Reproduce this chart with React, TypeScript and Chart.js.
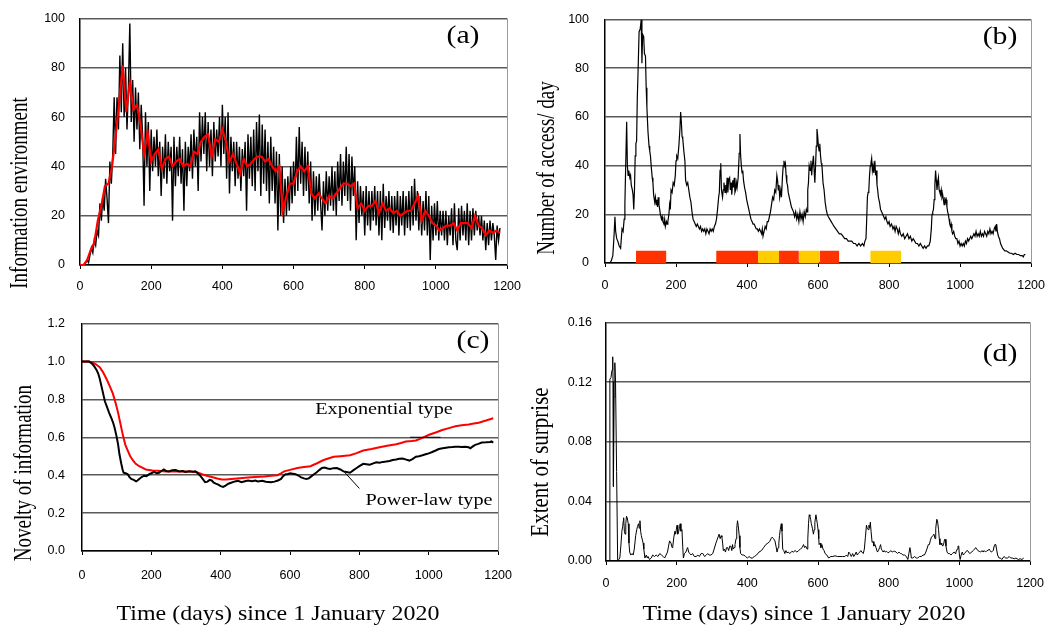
import React, { useEffect, useRef } from "react";
import { Chart, registerables } from "chart.js";

Chart.register(...registerables);

type Pt = [number, number];

// ---------------- DATA ----------------
const X_TICK_STEP = 200;
const X_MAX = 1200;

// (a) Information environment: daily series sampled every 4 days, and its moving average sampled every 10 days
const INFO_STEP_DAYS = 4;
const infoRaw: number[] = [
  0, 0, 0, 0, 1, 2, 1, 4, 7, 5, 10, 8, 14, 12, 25, 18, 28, 22, 35, 27, 17, 42, 33, 45, 68,
  45, 68, 55, 85, 62, 90, 60, 80, 55, 72, 98, 58, 75, 50, 72, 55, 70, 47, 65, 52, 24, 62, 40, 58, 30,
  55, 38, 52, 40, 55, 36, 50, 28, 48, 35, 53, 33, 50, 38, 48, 18, 52, 32, 48, 36, 52, 33, 47, 22, 50,
  32, 48, 38, 53, 35, 55, 40, 52, 30, 62, 42, 60, 45, 62, 38, 58, 40, 55, 36, 58, 42, 55, 44, 60, 40,
  65, 45, 60, 35, 62, 29, 52, 38, 50, 32, 50, 35, 48, 30, 47, 36, 50, 22, 53, 35, 52, 32, 55, 30, 58,
  38, 61, 28, 57, 33, 55, 30, 50, 25, 52, 30, 48, 25, 46, 14, 45, 20, 40, 17, 35, 20, 36, 22, 40, 25,
  42, 28, 52, 30, 56, 33, 50, 28, 48, 30, 46, 25, 42, 18, 38, 20, 36, 22, 37, 25, 14, 34, 20, 38, 22,
  36, 24, 40, 22, 38, 20, 42, 26, 45, 24, 42, 28, 48, 26, 45, 22, 44, 28, 40, 10, 34, 17, 32, 20, 30,
  12, 32, 16, 30, 14, 30, 18, 32, 16, 30, 12, 30, 10, 33, 15, 28, 18, 30, 14, 28, 13, 28, 16, 30, 12,
  28, 16, 30, 12, 28, 15, 30, 14, 32, 16, 35, 18, 30, 14, 28, 12, 26, 14, 30, 12, 28, 2, 24, 10, 25,
  12, 26, 10, 22, 12, 22, 10, 22, 8, 20, 12, 23, 8, 25, 10, 6, 23, 10, 24, 12, 22, 10, 25, 8, 22,
  10, 23, 12, 22, 14, 20, 12, 20, 10, 18, 6, 17, 8, 18, 10, 17, 12, 2, 16, 10, 15,
];
const SMOOTH_STEP_DAYS = 10;
const infoSmooth: number[] = [
  0, 0, 2, 6, 9, 18, 24, 32, 33, 40,
  52, 66, 81, 62, 74, 63, 65, 57, 45, 54,
  42, 45, 47, 39, 43, 44, 40, 42, 43, 40,
  41, 40, 46, 45, 50, 52, 53, 44, 51, 50,
  55, 50, 42, 45, 41, 37, 43, 40, 41, 43,
  44, 44, 42, 43, 40, 38, 40, 22, 28, 33,
  33, 38, 40, 38, 40, 29, 27, 29, 27, 25,
  28, 27, 29, 31, 33, 33, 32, 33, 23, 25,
  22, 24, 24, 26, 21, 25, 22, 23, 21, 22,
  20, 21, 22, 22, 25, 28, 18, 22, 20, 17,
  16, 14, 15, 16, 16, 17, 14, 17, 17, 17,
  15, 20, 16, 15, 12, 14, 13, 14, 13,
];

// (b) Number of access / day  [day, count]
const accessSeries: Pt[] = [
  [0,0],[14,0],[18,1],[22,3],[25,10],[28,19],[30,13],[33,10],[36,9],[40,7],[44,6],[46,10],[48,14],[51,13],[54,18],[56,24],[58,38],[61,58],[63,40],[65,36],[67,38],[70,35],[72,36],[74,32],[77,30],[79,28],[81,22],[83,30],[85,44],[87,49],[89,50],[91,68],[93,78],[96,95],[99,96],[102,100],[104,82],[106,94],[109,93],[111,86],[114,85],[116,72],[118,64],[121,54],[124,48],[126,46],[128,44],[130,40],[133,35],[135,33],[137,28],[140,25],[142,27],[144,24],[146,26],[148,23],[150,27],[152,24],[154,22],[156,20],[159,18],[161,19],[163,17],[166,16],[168,18],[170,15],[173,17],[175,16],[177,17],[180,20],[182,24],[184,22],[186,30],[189,29],[192,33],[195,32],[198,36],[200,42],[202,44],[205,43],[208,48],[211,55],[213,62],[215,58],[217,52],[219,51],[222,46],[225,42],[227,34],[230,32],[233,33],[236,30],[239,27],[242,25],[245,21],[248,18],[251,17],[254,16],[257,15],[260,16],[263,15],[266,14],[269,15],[272,13],[275,14],[278,13],[281,14],[284,12],[287,14],[290,13],[293,12],[296,14],[299,13],[302,14],[305,13],[308,15],[311,16],[314,18],[317,22],[320,27],[322,29],[324,38],[326,41],[328,30],[331,27],[333,30],[335,33],[338,29],[340,32],[342,30],[344,35],[346,29],[348,34],[351,35],[353,30],[355,33],[357,28],[360,34],[362,31],[364,35],[366,29],[368,30],[370,33],[372,31],[375,35],[378,45],[380,53],[382,44],[384,40],[386,37],[388,38],[390,34],[393,31],[396,29],[399,26],[402,24],[405,22],[408,20],[411,18],[414,17],[417,16],[420,16],[423,15],[426,14],[429,14],[432,13],[435,14],[438,13],[441,12],[443,14],[445,11],[448,13],[451,15],[454,14],[457,17],[460,17],[463,19],[466,21],[469,24],[472,27],[475,26],[478,30],[481,29],[484,36],[486,34],[488,30],[490,32],[492,27],[495,30],[497,27],[500,36],[502,40],[504,42],[506,40],[508,41],[510,36],[512,33],[514,32],[516,29],[519,27],[522,25],[525,23],[528,22],[531,21],[534,19],[537,21],[540,18],[543,20],[546,17],[549,21],[552,18],[555,20],[558,17],[561,21],[564,19],[567,22],[569,21],[571,30],[573,33],[575,40],[578,38],[580,42],[582,36],[584,40],[587,44],[589,38],[591,33],[593,40],[595,48],[597,55],[599,52],[601,48],[603,46],[605,49],[607,44],[609,41],[611,40],[614,33],[617,30],[620,25],[623,22],[626,20],[629,19],[633,18],[637,17],[641,16],[645,15],[650,14],[655,13],[660,12],[665,12],[670,11],[675,10],[680,10],[685,9],[690,9],[695,9],[700,8],[705,8],[710,7],[715,8],[720,7],[725,8],[729,7],[732,9],[735,10],[737,18],[739,27],[741,29],[743,30],[745,36],[747,40],[749,41],[751,43],[753,38],[755,40],[757,37],[760,42],[762,36],[764,38],[766,32],[768,30],[770,27],[773,25],[776,22],[779,21],[782,20],[785,19],[788,18],[791,19],[794,17],[797,16],[800,17],[803,15],[807,16],[811,14],[814,15],[817,13],[820,15],[823,14],[826,12],[829,14],[832,12],[836,11],[840,12],[844,10],[848,11],[852,12],[856,10],[860,11],[864,9],[868,10],[872,9],[876,8],[880,8],[884,7],[888,8],[892,7],[896,6],[900,7],[904,6],[908,7],[912,7],[916,9],[919,14],[921,20],[923,21],[925,22],[927,26],[929,32],[931,38],[933,34],[935,30],[937,33],[939,35],[941,30],[943,29],[945,28],[947,30],[949,27],[951,28],[953,26],[955,24],[957,27],[959,25],[961,26],[963,23],[965,21],[967,20],[969,18],[971,16],[973,15],[975,16],[977,13],[979,12],[982,13],[985,11],[988,10],[991,10],[994,8],[997,9],[1000,7],[1003,8],[1006,7],[1009,8],[1012,7],[1015,9],[1018,8],[1021,10],[1024,9],[1027,10],[1030,11],[1033,10],[1036,11],[1039,12],[1042,11],[1045,13],[1048,11],[1051,12],[1054,11],[1057,13],[1060,11],[1063,12],[1066,11],[1069,13],[1072,12],[1075,11],[1078,13],[1081,12],[1084,14],[1087,12],[1090,13],[1093,12],[1096,14],[1099,15],[1101,13],[1103,16],[1105,13],[1108,11],[1111,10],[1114,8],[1117,7],[1120,6],[1123,5.5],[1126,5],[1130,5],[1135,4.5],[1140,4],[1145,4],[1150,3.5],[1155,4],[1160,3.5],[1165,3.5],[1170,3],[1175,3],[1178,2.5],[1181,3.5],[1184,3.5],
];

// (b) highlighted periods
const periodStart: number[] = [87, 313, 431, 490, 546, 604, 747];
const periodEnd: number[] = [173, 431, 490, 546, 604, 660, 834];
const periodColor: string[] = ["#FF3300", "#FF3300", "#FFCC00", "#FF3300", "#FFCC00", "#FF3300", "#FFCC00"];
const PERIOD_LEVEL = 5;

// (c) Novelty of information [day, value]
const exponentialSeries: Pt[] = [
  [0,1.0],[20,1.0],[30,0.995],[40,0.985],[51,0.97],[60,0.945],[70,0.91],[80,0.87],[89,0.83],[97,0.78],[104,0.73],[111,0.67],[118,0.61],[125,0.56],[132,0.53],[139,0.5],[146,0.48],[155,0.46],[165,0.447],[175,0.438],[184,0.43],[203,0.425],[220,0.423],[241,0.42],[260,0.42],[289,0.42],[310,0.419],[327,0.417],[337,0.412],[346,0.405],[360,0.397],[374,0.39],[390,0.382],[403,0.377],[415,0.377],[431,0.38],[455,0.384],[479,0.388],[500,0.39],[526,0.393],[545,0.397],[564,0.4],[574,0.41],[583,0.42],[600,0.428],[621,0.438],[640,0.443],[659,0.447],[668,0.455],[678,0.463],[688,0.472],[697,0.48],[710,0.488],[726,0.497],[745,0.5],[773,0.505],[790,0.515],[811,0.53],[835,0.538],[858,0.547],[880,0.555],[906,0.563],[920,0.57],[934,0.577],[950,0.58],[963,0.583],[980,0.595],[1001,0.613],[1020,0.625],[1039,0.638],[1058,0.648],[1077,0.658],[1095,0.663],[1115,0.667],[1130,0.672],[1144,0.677],[1165,0.688],[1186,0.7],
];
const powerLawSeries: Pt[] = [
  [0,1.0],[20,1.0],[28,0.99],[35,0.975],[42,0.955],[47,0.935],[51,0.91],[56,0.87],[61,0.83],[66,0.79],[72,0.76],[78,0.73],[85,0.7],[90,0.675],[94,0.65],[99,0.61],[104,0.563],[108,0.51],[113,0.463],[117,0.43],[120,0.413],[126,0.41],[132,0.405],[137,0.39],[142,0.38],[149,0.375],[156,0.367],[160,0.372],[165,0.38],[172,0.39],[179,0.397],[186,0.395],[194,0.405],[200,0.41],[208,0.417],[215,0.41],[222,0.413],[229,0.422],[236,0.43],[243,0.422],[251,0.42],[260,0.426],[270,0.427],[280,0.42],[290,0.422],[298,0.417],[310,0.421],[320,0.418],[327,0.42],[334,0.41],[341,0.397],[348,0.38],[355,0.363],[362,0.366],[368,0.375],[374,0.372],[380,0.36],[386,0.355],[393,0.35],[400,0.342],[407,0.338],[414,0.345],[422,0.355],[430,0.36],[441,0.367],[450,0.37],[460,0.363],[470,0.368],[479,0.372],[490,0.368],[500,0.372],[507,0.367],[520,0.37],[530,0.365],[545,0.363],[555,0.366],[565,0.372],[574,0.38],[580,0.395],[587,0.405],[593,0.405],[600,0.41],[608,0.408],[616,0.405],[624,0.398],[632,0.388],[640,0.383],[647,0.38],[654,0.383],[662,0.395],[669,0.405],[677,0.415],[685,0.428],[692,0.438],[700,0.44],[708,0.435],[716,0.433],[725,0.437],[735,0.438],[745,0.43],[754,0.42],[763,0.417],[773,0.413],[782,0.425],[792,0.438],[800,0.448],[811,0.46],[820,0.458],[830,0.455],[840,0.462],[849,0.468],[858,0.466],[868,0.47],[877,0.472],[887,0.475],[896,0.48],[906,0.483],[915,0.487],[925,0.488],[935,0.482],[944,0.477],[953,0.485],[963,0.497],[972,0.5],[982,0.505],[991,0.51],[1000,0.515],[1010,0.522],[1020,0.53],[1029,0.538],[1040,0.542],[1050,0.545],[1058,0.547],[1068,0.548],[1077,0.55],[1086,0.55],[1095,0.548],[1105,0.55],[1115,0.547],[1120,0.542],[1127,0.552],[1134,0.56],[1143,0.565],[1153,0.572],[1165,0.573],[1177,0.575],[1181,0.578],[1186,0.572],
];
const exponentialLeader: Pt[] = [[946, 0.6], [1034, 0.6]];
const powerLawLeader: Pt[] = [[755, 0.42], [800, 0.33]];

// (d) Extent of surprise [day, value]
const surpriseSeries: Pt[] = [
  [0,0],[10,0],[11,0.122],[14,0.123],[17,0.128],[19,0.137],[20,0.12],[21,0.05],[23,0.11],[25,0.133],[27,0.12],[30,0.06],[33,0],[36,0.001],[39,0.002],[42,0.01],[45,0.02],[47,0.023],[49,0.027],[50,0.029],[52,0.02],[54,0.018],[56,0.025],[58,0.03],[60,0.029],[63,0.025],[65,0.012],[67,0.006],[70,0.004],[74,0.005],[77,0.004],[80,0.008],[84,0.017],[87,0.021],[89,0.023],[92,0.025],[94,0.022],[96,0.027],[98,0.02],[100,0.017],[103,0.014],[105,0.012],[107,0.008],[110,0.002],[114,0.004],[117,0.002],[119,0.003],[123,0.001],[128,0.002],[132,0.004],[137,0.003],[142,0.004],[147,0.003],[152,0.005],[157,0.004],[162,0.003],[166,0.002],[170,0.004],[174,0.006],[177,0.01],[180,0.0135],[184,0.012],[187,0.009],[189,0.01],[192,0.016],[195,0.02],[197,0.018],[199,0.021],[201,0.024],[203,0.018],[206,0.02],[208,0.023],[210,0.025],[212,0.02],[215,0.021],[217,0.01],[219,0.002],[222,0.005],[226,0.006],[229,0.008],[231,0.009],[234,0.006],[237,0.005],[241,0.004],[245,0.005],[250,0.003],[255,0.003],[260,0.004],[264,0.003],[269,0.005],[274,0.005],[279,0.003],[284,0.004],[288,0.005],[292,0.004],[297,0.004],[302,0.005],[306,0.008],[311,0.012],[314,0.014],[317,0.016],[320,0.018],[323,0.015],[326,0.017],[328,0.016],[330,0.012],[332,0.007],[335,0.008],[338,0.006],[341,0.009],[344,0.009],[347,0.007],[350,0.01],[353,0.01],[356,0.007],[358,0.011],[360,0.008],[363,0.009],[365,0.011],[368,0.015],[370,0.022],[372,0.027],[374,0.024],[377,0.017],[379,0.009],[381,0.005],[385,0.004],[390,0.004],[395,0.003],[400,0.002],[405,0.003],[410,0.002],[414,0.002],[420,0.003],[426,0.004],[433,0.006],[440,0.007],[446,0.009],[452,0.011],[458,0.012],[463,0.013],[467,0.015],[470,0.016],[474,0.015],[478,0.0135],[481,0.01],[484,0.006],[487,0.009],[489,0.012],[491,0.017],[493,0.021],[496,0.025],[498,0.02],[500,0.008],[503,0.007],[506,0.005],[509,0.007],[512,0.0055],[516,0.006],[520,0.005],[526,0.0065],[530,0.006],[535,0.007],[540,0.006],[545,0.007],[550,0.008],[555,0.009],[559,0.011],[562,0.009],[565,0.01],[569,0.008],[571,0.015],[573,0.025],[575,0.031],[577,0.03],[579,0.028],[581,0.025],[584,0.022],[587,0.018],[589,0.021],[591,0.026],[594,0.031],[596,0.028],[598,0.025],[600,0.021],[602,0.015],[603,0.011],[606,0.012],[608,0.009],[611,0.011],[614,0.008],[617,0.007],[620,0.005],[625,0.004],[630,0.002],[636,0.003],[642,0.003],[648,0.0035],[655,0.003],[662,0.003],[669,0.003],[676,0.003],[680,0.004],[684,0.003],[687,0.006],[690,0.005],[694,0.003],[698,0.005],[701,0.003],[704,0.004],[708,0.006],[711,0.004],[714,0.005],[718,0.006],[721,0.007],[724,0.006],[728,0.005],[731,0.008],[734,0.016],[737,0.024],[739,0.022],[742,0.021],[744,0.024],[746,0.022],[748,0.026],[750,0.02],[753,0.0125],[756,0.013],[758,0.01],[761,0.011],[764,0.009],[768,0.006],[771,0.007],[774,0.009],[777,0.011],[779,0.008],[782,0.007],[784,0.006],[787,0.007],[790,0.006],[794,0.0065],[798,0.0055],[802,0.006],[806,0.007],[810,0.006],[814,0.0065],[817,0.0065],[821,0.006],[825,0.005],[829,0.006],[833,0.005],[836,0.005],[840,0.004],[845,0.004],[850,0.003],[854,0.001],[857,0.005],[860,0.009],[862,0.006],[864,0.002],[868,0.002],[873,0.003],[878,0.002],[882,0.002],[887,0.003],[892,0.003],[897,0.004],[901,0.004],[905,0.006],[908,0.008],[912,0.011],[915,0.011],[918,0.014],[921,0.016],[925,0.017],[928,0.018],[931,0.015],[933,0.022],[936,0.028],[938,0.027],[941,0.021],[943,0.015],[945,0.011],[948,0.012],[950,0.011],[953,0.01],[956,0.012],[958,0.0145],[960,0.0145],[962,0.01],[965,0.006],[968,0.005],[972,0.005],[976,0.004],[980,0.005],[985,0.006],[988,0.005],[990,0.006],[994,0.008],[996,0.01],[998,0.01],[1000,0.004],[1002,0.001],[1005,0.004],[1008,0.006],[1011,0.004],[1014,0.005],[1018,0.006],[1021,0.007],[1023,0.007],[1026,0.006],[1029,0.005],[1032,0.0055],[1035,0.006],[1039,0.007],[1043,0.008],[1046,0.009],[1049,0.008],[1052,0.007],[1056,0.0065],[1060,0.006],[1064,0.007],[1067,0.006],[1070,0.007],[1074,0.006],[1078,0.007],[1081,0.007],[1084,0.008],[1087,0.007],[1090,0.006],[1093,0.0065],[1096,0.007],[1098,0.01],[1100,0.011],[1103,0.011],[1105,0.008],[1108,0.004],[1112,0.002],[1116,0.002],[1120,0.001],[1126,0.003],[1131,0.002],[1136,0.002],[1141,0.003],[1145,0.002],[1150,0.002],[1155,0.0015],[1160,0.002],[1163,0.0015],[1167,0.001],[1172,0.0015],[1177,0.001],[1182,0.002],
];

// ---------------- LAYOUT / STYLE ----------------
const Y_AXIS_W = 70;
const X_AXIS_H = 40;
const PAD_T = 12;
const PAD_R = 22;
const SERIF = '"Liberation Serif", "Times New Roman", Times, serif';
const SANS = '"Liberation Sans", Arial, Helvetica, sans-serif';

type Area = { l: number; r: number; t: number; b: number };

const toXY = (pairs: Pt[]) => pairs.map(([x, y]) => ({ x, y }));
const stepSeries = (vals: number[], step: number) => vals.map((y, i) => ({ x: i * step, y }));

const framePlugin = {
  id: "frame",
  afterDraw(chart: any) {
    const { ctx, chartArea: a } = chart;
    ctx.save();
    ctx.strokeStyle = "#9a9a9a";
    ctx.lineWidth = 1;
    ctx.beginPath();
    ctx.moveTo(Math.round(a.right) + 0.5, a.top);
    ctx.lineTo(Math.round(a.right) + 0.5, a.bottom);
    ctx.stroke();
    ctx.restore();
  },
};

const TICK_FONT = { family: SANS, size: 12.5 };

function makeOptions(o: { yMax: number; yStep: number; dec: number; yPad: number; xPad: number }) {
  return {
    responsive: false,
    animation: false as const,
    events: [] as any[],
    layout: { padding: { top: PAD_T, right: PAD_R, left: 0, bottom: 0 } },
    plugins: { legend: { display: false }, tooltip: { enabled: false } },
    elements: { point: { radius: 0 }, line: { tension: 0 } },
    scales: {
      x: {
        type: "linear" as const,
        min: 0,
        max: X_MAX,
        ticks: {
          stepSize: X_TICK_STEP,
          padding: o.xPad,
          color: "#000",
          maxRotation: 0,
          autoSkip: false,
          font: TICK_FONT,
          callback: (v: any) => String(Math.round(Number(v))),
        },
        grid: { display: true, drawOnChartArea: false, drawTicks: true, tickLength: 4, color: "#000", lineWidth: 1 },
        border: { display: true, color: "#000", width: 1.5 },
        afterFit: (s: any) => {
          s.height = X_AXIS_H;
        },
      },
      y: {
        type: "linear" as const,
        min: 0,
        max: o.yMax,
        ticks: {
          stepSize: o.yStep,
          padding: o.yPad,
          color: "#000",
          font: TICK_FONT,
          callback: (v: any) => Number(v).toFixed(o.dec),
        },
        grid: { color: "#5a5a5a", lineWidth: 1.4, drawTicks: false },
        border: { display: true, color: "#000", width: 1.5 },
        afterFit: (s: any) => {
          s.width = Y_AXIS_W;
        },
      },
    },
  };
}

const lineDs = (data: any[], color: string, width: number, order = 1) => ({
  data,
  borderColor: color,
  backgroundColor: color,
  borderWidth: width,
  pointRadius: 0,
  fill: false,
  order,
});

const panels: { key: string; area: Area; build: () => any }[] = [
  {
    key: "a",
    area: { l: 80, r: 509, t: 8, b: 265 },
    build: () => ({
      type: "line",
      data: {
        datasets: [
          lineDs(stepSeries(infoRaw, INFO_STEP_DAYS), "#000", 1.4, 2),
          lineDs(stepSeries(infoSmooth, SMOOTH_STEP_DAYS), "#FF0000", 2.2, 1),
        ],
      },
      options: makeOptions({ yMax: 100, yStep: 20, dec: 0, yPad: 15, xPad: 10 }),
      plugins: [framePlugin],
    }),
  },
  {
    key: "b",
    area: { l: 605, r: 1034, t: 8, b: 263 },
    build: () => ({
      type: "line",
      data: {
        datasets: [
          lineDs(toXY(accessSeries), "#000", 1.2, 1),
          ...periodStart.map((s, i) => ({
            data: [
              { x: s, y: PERIOD_LEVEL },
              { x: periodEnd[i], y: PERIOD_LEVEL },
            ],
            borderColor: periodColor[i],
            backgroundColor: periodColor[i],
            borderWidth: 0,
            pointRadius: 0,
            fill: "origin",
            order: 2,
          })),
        ],
      },
      options: makeOptions({ yMax: 100, yStep: 20, dec: 0, yPad: 16, xPad: 11 }),
      plugins: [framePlugin],
    }),
  },
  {
    key: "c",
    area: { l: 82, r: 503, t: 311, b: 551 },
    build: () => ({
      type: "line",
      data: {
        datasets: [
          lineDs(toXY(exponentialSeries), "#FF0000", 2, 2),
          lineDs(toXY(powerLawSeries), "#000", 2, 1),
          lineDs(toXY(exponentialLeader), "#000", 1, 1),
          lineDs(toXY(powerLawLeader), "#000", 1, 1),
        ],
      },
      options: makeOptions({ yMax: 1.2, yStep: 0.2, dec: 1, yPad: 17, xPad: 13 }),
      plugins: [framePlugin],
    }),
  },
  {
    key: "d",
    area: { l: 606, r: 1033, t: 313, b: 561 },
    build: () => ({
      type: "line",
      data: { datasets: [lineDs(toXY(surpriseSeries), "#000", 1, 1)] },
      options: makeOptions({ yMax: 0.16, yStep: 0.04, dec: 2, yPad: 14, xPad: 11 }),
      plugins: [framePlugin],
    }),
  },
];

function Panel({ area, build }: { area: Area; build: () => any }) {
  const ref = useRef<HTMLCanvasElement>(null);
  const left = area.l - Y_AXIS_W;
  const top = area.t - PAD_T;
  const w = area.r - area.l + Y_AXIS_W + PAD_R;
  const h = area.b - area.t + PAD_T + X_AXIS_H;
  useEffect(() => {
    const chart = new Chart(ref.current as HTMLCanvasElement, build());
    return () => chart.destroy();
  }, []);
  return (
    <canvas
      ref={ref}
      width={w}
      height={h}
      style={{ position: "absolute", left, top, width: w, height: h }}
    />
  );
}

function Label({
  text, x, y, size, sx = 1, rotate = false, sy = 1,
}: { text: string; x: number; y: number; size: number; sx?: number; rotate?: boolean; sy?: number }) {
  const transform = rotate
    ? `translate(-50%, -50%) rotate(-90deg) scale(1, ${sy})`
    : `translate(-50%, -50%) scale(${sx}, 1)`;
  return (
    <div
      style={{
        position: "absolute",
        left: x,
        top: y,
        transform,
        fontFamily: SERIF,
        fontSize: size,
        lineHeight: 1,
        whiteSpace: "nowrap",
        color: "#000",
      }}
    >
      {text}
    </div>
  );
}

export default function App() {
  return (
    <div
      style={{
        position: "absolute",
        left: 0,
        top: 0,
        width: 1058,
        height: 637,
        background: "#fff",
        overflow: "hidden",
      }}
    >
      {panels.map((p) => (
        <Panel key={p.key} area={p.area} build={p.build} />
      ))}
      <Label text="Information environment" x={19} y={193} size={19} rotate sy={1.3} />
      <Label text="Number of access/ day" x={546} y={168} size={19} rotate sy={1.3} />
      <Label text="Novelty of information" x={23} y={473} size={19} rotate sy={1.3} />
      <Label text="Extent of surprise" x={540} y={462} size={21} rotate sy={1.2} />
      <Label text="(a)" x={463} y={34} size={25} sx={1.19} />
      <Label text="(b)" x={1000} y={35} size={25} sx={1.19} />
      <Label text="(c)" x={473} y={339} size={25} sx={1.19} />
      <Label text="(d)" x={1000} y={352} size={25} sx={1.19} />
      <Label text="Exponential type" x={384} y={408} size={17} sx={1.19} />
      <Label text="Power-law type" x={429} y={499} size={17} sx={1.19} />
      <Label text="Time (days) since 1 January 2020" x={278} y={613} size={21} sx={1.14} />
      <Label text="Time (days) since 1 January 2020" x={804} y={613} size={21} sx={1.14} />
    </div>
  );
}
